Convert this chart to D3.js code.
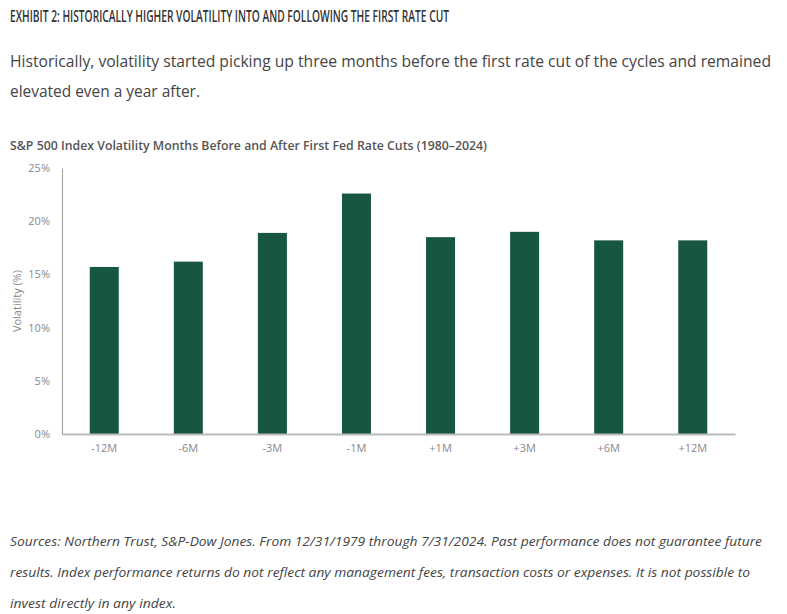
<!DOCTYPE html>
<html>
<head>
<meta charset="utf-8">
<script src="https://cdn.jsdelivr.net/npm/d3@7"></script>
<style>
  html, body { margin: 0; padding: 0; background: #fff; }
  svg { display: block; }
</style>
</head>
<body>
<svg id="chart" width="787" height="614"></svg>
<script>
const categories = ["-12M", "-6M", "-3M", "-1M", "+1M", "+3M", "+6M", "+12M"];
const volatility = [15.7, 16.2, 18.9, 22.6, 18.5, 19.0, 18.2, 18.2];
const yTicks = [0, 5, 10, 15, 20, 25];

const svg = d3.select("#chart");
const font = "'Open Sans', 'Noto Sans', sans-serif";

// Header texts
svg.append("text").attr("x", 10).attr("y", 22)
  .attr("font-family", font).attr("font-size", 17).attr("font-weight", 600)
  .attr("fill", "#333").attr("textLength", 439).attr("lengthAdjust", "spacingAndGlyphs")
  .text("EXHIBIT 2: HISTORICALLY HIGHER VOLATILITY INTO AND FOLLOWING THE FIRST RATE CUT");

svg.append("text").attr("x", 10).attr("y", 67)
  .attr("font-family", font).attr("font-size", 16)
  .attr("fill", "#444").attr("textLength", 761).attr("lengthAdjust", "spacingAndGlyphs")
  .text("Historically, volatility started picking up three months before the first rate cut of the cycles and remained");
svg.append("text").attr("x", 10).attr("y", 97)
  .attr("font-family", font).attr("font-size", 16)
  .attr("fill", "#444").attr("textLength", 190).attr("lengthAdjust", "spacingAndGlyphs")
  .text("elevated even a year after.");

svg.append("text").attr("x", 10).attr("y", 150)
  .attr("font-family", font).attr("font-size", 12).attr("font-weight", 600)
  .attr("fill", "#555").attr("textLength", 477).attr("lengthAdjust", "spacingAndGlyphs")
  .text("S&P 500 Index Volatility Months Before and After First Fed Rate Cuts (1980\u20132024)");

// Chart area
const x0 = 62, x1 = 735, yTop = 168, yBottom = 434;
const x = d3.scaleBand().domain(categories).range([x0, x1]).paddingInner(0.655).paddingOuter(0.33);
const y = d3.scaleLinear().domain([0, 25]).range([yBottom, yTop]);

svg.append("g").selectAll("rect").data(categories).join("rect")
  .attr("x", d => x(d))
  .attr("width", x.bandwidth())
  .attr("y", (d, i) => y(volatility[i]))
  .attr("height", (d, i) => yBottom - y(volatility[i]))
  .attr("fill", "#175741");

// Y axis
const yAxis = svg.append("g").attr("transform", `translate(${x0},0)`)
  .call(d3.axisLeft(y).tickValues(yTicks).tickFormat(d => d + "%").tickSize(0).tickPadding(12));
yAxis.select(".domain").attr("stroke", "#aaa").attr("stroke-width", 1.2);
yAxis.selectAll("text").attr("font-family", font).attr("font-size", 11).attr("fill", "#888");

// X axis
const xAxis = svg.append("g").attr("transform", `translate(0,${yBottom})`)
  .call(d3.axisBottom(x).tickSize(0).tickPadding(10));
xAxis.select(".domain").attr("stroke", "#bbb").attr("stroke-width", 2);
xAxis.selectAll("text").attr("font-family", font).attr("font-size", 11).attr("fill", "#888");

// Y label
svg.append("text")
  .attr("transform", `translate(21,${(yTop + yBottom) / 2 + 0}) rotate(-90)`)
  .attr("text-anchor", "middle")
  .attr("font-family", font).attr("font-size", 11).attr("fill", "#888")
  .text("Volatility (%)");

// Footer
const foot = [
  ["Sources: Northern Trust, S&P-Dow Jones. From 12/31/1979 through 7/31/2024. Past performance does not guarantee future", 752],
  ["results. Index performance returns do not reflect any management fees, transaction costs or expenses. It is not possible to", 740],
  ["invest directly in any index.", 166]
];
svg.append("g").selectAll("text").data(foot).join("text")
  .attr("x", 10).attr("y", (d, i) => 546 + i * 31)
  .attr("font-family", font).attr("font-size", 13).attr("font-style", "italic")
  .attr("fill", "#444").attr("textLength", d => d[1]).attr("lengthAdjust", "spacingAndGlyphs")
  .text(d => d[0]);
</script>
</body>
</html>
